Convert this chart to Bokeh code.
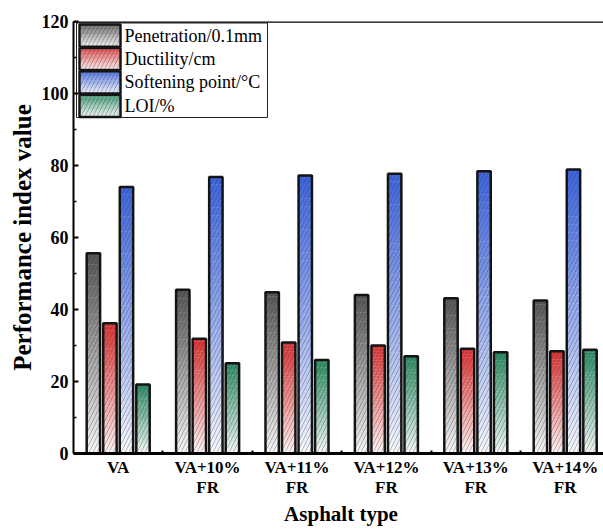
import numpy as np
from bokeh.plotting import figure
from bokeh.models import Range1d, FixedTicker, Span, ColumnDataSource
from bokeh.core.properties import value
from bokeh.embed import file_html
from bokeh.resources import INLINE

# ---- data -------------------------------------------------------------
categories = ["VA", "VA+10%\nFR", "VA+11%\nFR", "VA+12%\nFR", "VA+13%\nFR", "VA+14%\nFR"]
penetration = [55.6, 45.5, 44.8, 44.0, 43.1, 42.5]
ductility = [36.2, 31.9, 30.8, 30.0, 29.1, 28.4]
softening = [74.0, 76.8, 77.2, 77.7, 78.4, 78.9]
loi = [19.2, 25.1, 26.0, 27.0, 28.1, 28.8]
series_names = ["Penetration/0.1mm", "Ductility/cm", "Softening point/\u00b0C", "LOI/%"]
y_ticks = [0, 20, 40, 60, 80, 100, 120]

series_values = [penetration, ductility, softening, loi]
series_colors = ["#555555", "#dc3232", "#3c64df", "#2b8c64"]

# ---- layout -----------------------------------------------------------
H = 529
L, T, B = 73, 21, 453
FRAME_W = 535
x_start = -0.5
px_per_group = 89.4
x_end = x_start + FRAME_W / px_per_group
y_start, y_end = 0, 120
offsets = [-0.2775, -0.0925, 0.0925, 0.2775]
bar_w = 0.15
n_slices = 36
SERIF = "Liberation Serif"

ppx_y = (B - T) / (y_end - y_start)


def x_px(px):
    return x_start + (px - L) / px_per_group


def y_px(py):
    return y_start + (B - py) / ppx_y


def mix(color, t):
    """Blend a hex colour towards white; t=1 gives the colour, t=0 white."""
    c = np.array([int(color[i:i + 2], 16) for i in (1, 3, 5)], dtype=float)
    out = 255 - (255 - c) * t
    return "#%02x%02x%02x" % tuple(int(round(v)) for v in out)


p = figure(frame_width=FRAME_W, frame_height=B - T,
           x_range=Range1d(x_start, x_end), y_range=Range1d(y_start, y_end),
           output_backend="svg", toolbar_location=None,
           min_border_left=L, min_border_right=0,
           min_border_top=T, min_border_bottom=H - B)
p.xgrid.visible = False
p.ygrid.visible = False
p.outline_line_color = None
p.background_fill_color = "white"
p.border_fill_color = "white"

xs = np.arange(len(categories))

HATCH = dict(hatch_pattern="/", hatch_color="#333333", hatch_alpha=0.55,
             hatch_weight=0.6, hatch_scale=8)

# ---- bars: vertical white->colour gradient, hatch, outline ----------------
for vals, col, off in zip(series_values, series_colors, offsets):
    left, right, bottom, top, fill = [], [], [], [], []
    for xc, v in zip(xs, vals):
        for k in range(n_slices):
            b = v * k / n_slices
            t_ = v * (k + 1) / n_slices
            if k < n_slices - 1:
                t_ += 0.08
            left.append(xc + off - bar_w / 2)
            right.append(xc + off + bar_w / 2)
            bottom.append(b)
            top.append(t_)
            fill.append(mix(col, 0.03 + 0.97 * ((k + 0.5) / n_slices) ** 0.9))
    src = ColumnDataSource(dict(left=left, right=right, bottom=bottom, top=top, fill=fill))
    p.quad(left="left", right="right", bottom="bottom", top="top", source=src,
           fill_color="fill", line_color=None)
    bx = xs + off
    p.vbar(x=bx, width=bar_w, top=vals, bottom=0, fill_alpha=0, line_color=None, **HATCH)
    p.vbar(x=bx, width=bar_w, top=vals, bottom=0, fill_color=None,
           line_color="#141414", line_width=2.5)

# ---- legend -----------------------------------------------------------
p.quad(left=[x_px(76)], right=[x_px(267)], top=[y_px(22.5)], bottom=[y_px(117)],
       fill_color="white", line_color="#222222", line_width=1)
row_h = 23.4
for i, (name, col) in enumerate(zip(series_names, series_colors)):
    top_px = 24 + i * row_h
    bot_px = top_px + row_h - 1.2
    nl = 14
    lgl, lgr, lgb, lgt, lgf = [], [], [], [], []
    for k in range(nl):
        py_b = bot_px - (bot_px - top_px) * k / nl
        py_t = bot_px - (bot_px - top_px) * (k + 1) / nl
        lgl.append(x_px(79))
        lgr.append(x_px(120))
        lgb.append(y_px(py_b))
        lgt.append(y_px(py_t) + (0.1 if k < nl - 1 else 0))
        lgf.append(mix(col, 0.08 + 0.8 * (k + 0.5) / nl))
    p.quad(left=lgl, right=lgr, bottom=lgb, top=lgt, fill_color=lgf, line_color=None)
    p.quad(left=[x_px(79)], right=[x_px(120)], bottom=[y_px(bot_px)], top=[y_px(top_px)],
           fill_alpha=0, line_color=None, **HATCH)
    p.quad(left=[x_px(79)], right=[x_px(120)], bottom=[y_px(bot_px)], top=[y_px(top_px)],
           fill_color=None, line_color="#141414", line_width=2.5)
    p.text(x=[x_px(124)], y=[y_px((top_px + bot_px) / 2)], text=[name],
           text_font=value(SERIF), text_font_size="18px", text_color="black",
           text_baseline="middle", text_align="left")

# top border of the frame
p.add_layout(Span(location=y_end, dimension="width", line_color="black", line_width=2.5))

# ---- axes -------------------------------------------------------------
yax = p.yaxis[0]
yax.ticker = FixedTicker(ticks=y_ticks,
                         minor_ticks=[(a + b) / 2 for a, b in zip(y_ticks[:-1], y_ticks[1:])])
yax.axis_line_width = 2
yax.axis_line_color = "black"
yax.major_tick_in = 5
yax.major_tick_out = 0
yax.major_tick_line_width = 2
yax.minor_tick_in = 3
yax.minor_tick_out = 0
yax.minor_tick_line_width = 1.5
yax.major_label_standoff = 5
yax.major_label_text_font = SERIF
yax.major_label_text_font_style = "bold"
yax.major_label_text_font_size = "18px"
yax.major_label_text_color = "black"
yax.axis_label = "Performance index value"
yax.axis_label_text_font = SERIF
yax.axis_label_text_font_style = "bold"
yax.axis_label_text_font_size = "25px"
yax.axis_label_text_color = "black"
yax.axis_label_standoff = 3

xax = p.xaxis[0]
xax.ticker = FixedTicker(ticks=list(xs), minor_ticks=list(xs[:-1] + 0.5))
xax.major_label_overrides = {int(i): c for i, c in zip(xs, categories)}
xax.axis_line_width = 3
xax.axis_line_color = "black"
xax.major_tick_in = 0
xax.major_tick_out = 0
xax.minor_tick_in = 3
xax.minor_tick_out = 0
xax.minor_tick_line_width = 2
xax.major_label_standoff = 4
xax.major_label_text_font = SERIF
xax.major_label_text_font_style = "bold"
xax.major_label_text_font_size = "17px"
xax.major_label_text_line_height = 1.1
xax.major_label_text_color = "black"
xax.axis_label = "Asphalt type"
xax.axis_label_text_font = SERIF
xax.axis_label_text_font_style = "bold"
xax.axis_label_text_font_size = "21px"
xax.axis_label_text_color = "black"
xax.axis_label_standoff = 2

open("out.html", "w").write(file_html(p, INLINE))
